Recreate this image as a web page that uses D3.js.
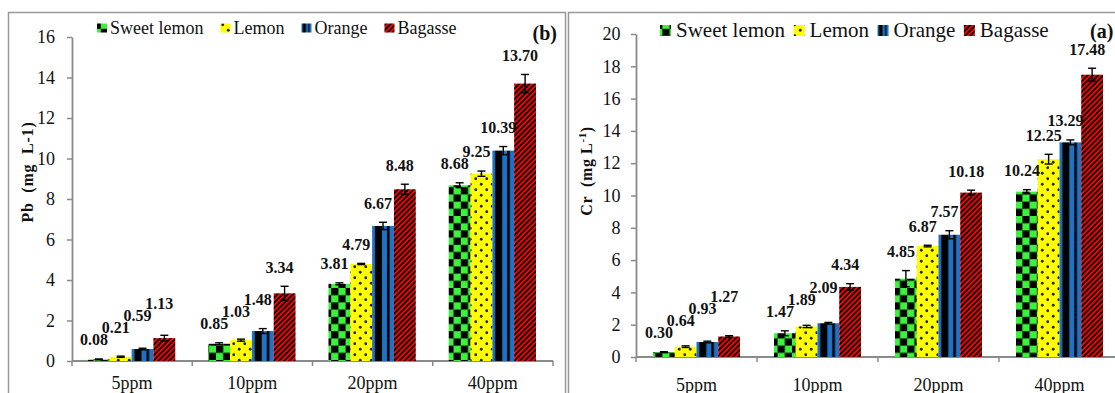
<!DOCTYPE html>
<html>
<head>
<meta charset="utf-8">
<script src="https://cdn.jsdelivr.net/npm/d3@7"></script>
<style>
  body { margin: 0; background: #fff; }
  svg { display: block; }
</style>
</head>
<body>
<svg id="chart" width="1115" height="393"></svg>
<script>
// ---- data ----
const categories = ["5ppm", "10ppm", "20ppm", "40ppm"];
const seriesNames = ["Sweet lemon", "Lemon", "Orange", "Bagasse"];

// Pb (mg L-1), panel (b)
const pbSweetLemon = [0.08, 0.85, 3.81, 8.68];
const pbLemon      = [0.21, 1.03, 4.79, 9.25];
const pbOrange     = [0.59, 1.48, 6.67, 10.39];
const pbBagasse    = [1.13, 3.34, 8.48, 13.70];
const pbErrSweetLemon = [0.02, 0.05, 0.05, 0.12];
const pbErrLemon      = [0.03, 0.05, 0.03, 0.13];
const pbErrOrange     = [0.04, 0.12, 0.18, 0.20];
const pbErrBagasse    = [0.14, 0.35, 0.25, 0.45];
const pbTicks = [0, 2, 4, 6, 8, 10, 12, 14, 16];

// Cr (mg L-1), panel (a)
const crSweetLemon = [0.30, 1.47, 4.85, 10.24];
const crLemon      = [0.64, 1.89, 6.87, 12.25];
const crOrange     = [0.93, 2.09, 7.57, 13.29];
const crBagasse    = [1.27, 4.34, 10.18, 17.48];
const crErrSweetLemon = [0.03, 0.15, 0.50, 0.12];
const crErrLemon      = [0.05, 0.07, 0.05, 0.30];
const crErrOrange     = [0.05, 0.05, 0.25, 0.15];
const crErrBagasse    = [0.05, 0.20, 0.15, 0.40];
const crTicks = [0, 2, 4, 6, 8, 10, 12, 14, 16, 18, 20];

// ---- drawing ----
const FONT = "'Liberation Serif', 'Times New Roman', serif";
const svg = d3.select("#chart");
const defs = svg.append("defs");
const AXIS = "#8a8a8a";

// fills: checkerboard, dotted, vertical stripes, diagonal stripes
const chk = defs.append("pattern").attr("id", "fillSweet")
  .attr("patternUnits", "userSpaceOnUse").attr("width", 14.4).attr("height", 14.4);
chk.append("rect").attr("width", 14.4).attr("height", 14.4).attr("fill", "#3cf23c");
chk.append("rect").attr("width", 7.2).attr("height", 7.2).attr("fill", "#000");
chk.append("rect").attr("x", 7.2).attr("y", 7.2).attr("width", 7.2).attr("height", 7.2).attr("fill", "#000");

const dots = defs.append("pattern").attr("id", "fillLemon")
  .attr("patternUnits", "userSpaceOnUse").attr("width", 11).attr("height", 11);
dots.append("rect").attr("width", 11).attr("height", 11).attr("fill", "#ffff00");
dots.append("circle").attr("cx", 2.75).attr("cy", 2.75).attr("r", 1.4).attr("fill", "#222");
dots.append("circle").attr("cx", 8.25).attr("cy", 8.25).attr("r", 1.4).attr("fill", "#222");

const vs = defs.append("pattern").attr("id", "fillOrange")
  .attr("patternUnits", "objectBoundingBox").attr("patternContentUnits", "objectBoundingBox")
  .attr("width", 1).attr("height", 1);
vs.append("rect").attr("width", 1).attr("height", 1).attr("fill", "#1f72c4");
vs.append("rect").attr("x", 0.13).attr("width", 0.32).attr("height", 1).attr("fill", "#000");
vs.append("rect").attr("x", 0.68).attr("width", 0.12).attr("height", 1).attr("fill", "#000");

const dg = defs.append("pattern").attr("id", "fillBagasse")
  .attr("patternUnits", "userSpaceOnUse").attr("width", 3.7).attr("height", 3.7)
  .attr("patternTransform", "rotate(45)");
dg.append("rect").attr("width", 3.7).attr("height", 3.7).attr("fill", "#ff0000");
dg.append("rect").attr("width", 1.85).attr("height", 3.7).attr("fill", "#000");

const fills = ["url(#fillSweet)", "url(#fillLemon)", "url(#fillOrange)", "url(#fillBagasse)"];

function drawPanel(cfg) {
  const g = svg.append("g");

  // panel frame (open at the bottom edge of the page)
  g.append("rect")
    .attr("x", cfg.frame[0]).attr("y", cfg.frame[1])
    .attr("width", cfg.frame[2]).attr("height", 500)
    .attr("fill", "none").attr("stroke", "#999").attr("stroke-width", 1.5);

  const y = d3.scaleLinear().domain([0, d3.max(cfg.ticks)]).range([cfg.y0, cfg.yTop]);
  const x = d3.scaleBand().domain(categories).range([cfg.xL, cfg.xR]);
  const xs = d3.scaleBand().domain(seriesNames)
    .range([cfg.inner[0], x.bandwidth() - cfg.inner[1]]);

  // y axis
  const ya = g.append("g").attr("transform", `translate(${cfg.xL},0)`)
    .call(d3.axisLeft(y).tickValues(cfg.ticks).tickFormat(d3.format("d"))
      .tickSize(5).tickSizeOuter(0).tickPadding(cfg.tickPad));
  ya.select(".domain").attr("stroke", AXIS).attr("stroke-width", 1.8);
  ya.selectAll(".tick line").attr("stroke", AXIS).attr("stroke-width", 1.5);
  ya.selectAll(".tick text").style("font-size", "18px").attr("fill", "#111");

  // x axis: baseline with ticks at category boundaries
  g.append("line").attr("x1", cfg.xL).attr("x2", cfg.xR)
    .attr("y1", cfg.y0).attr("y2", cfg.y0)
    .attr("stroke", AXIS).attr("stroke-width", 1.8);
  const bounds = categories.map(c => x(c)).concat([x(categories[categories.length - 1]) + x.bandwidth()]);
  g.selectAll(".xtick").data(bounds).join("line")
    .attr("x1", d => d).attr("x2", d => d)
    .attr("y1", cfg.y0).attr("y2", cfg.y0 + 5)
    .attr("stroke", AXIS).attr("stroke-width", 1.5);
  g.selectAll(".xlab").data(categories).join("text")
    .attr("x", d => x(d) + x.bandwidth() / 2).attr("y", cfg.catY)
    .attr("text-anchor", "middle").style("font-size", "18px").attr("fill", "#111")
    .text(d => d);

  // bars
  const rows = [];
  categories.forEach((c, ci) => {
    seriesNames.forEach((s, si) => {
      rows.push({ c, s, si, v: cfg.values[si][ci], e: cfg.errors[si][ci] });
    });
  });
  g.selectAll(".bar").data(rows).join("rect")
    .attr("x", d => x(d.c) + xs(d.s))
    .attr("y", d => y(d.v))
    .attr("width", xs.bandwidth())
    .attr("height", d => y(0) - y(d.v))
    .attr("fill", d => fills[d.si]);

  // error bars
  const cap = 4;
  const mid = d => x(d.c) + xs(d.s) + xs.bandwidth() / 2;
  const eb = g.selectAll(".err").data(rows).join("g")
    .attr("stroke", "#000").attr("stroke-width", 1.4);
  eb.append("line")
    .attr("x1", mid).attr("x2", mid)
    .attr("y1", d => y(d.v + d.e)).attr("y2", d => y(Math.max(0, d.v - d.e)));
  eb.append("line")
    .attr("x1", d => mid(d) - cap).attr("x2", d => mid(d) + cap)
    .attr("y1", d => y(d.v + d.e)).attr("y2", d => y(d.v + d.e));
  eb.append("line")
    .attr("x1", d => mid(d) - cap).attr("x2", d => mid(d) + cap)
    .attr("y1", d => y(Math.max(0, d.v - d.e))).attr("y2", d => y(Math.max(0, d.v - d.e)));

  // value labels above the error bars, stepped upward where neighbours collide
  const fmt = d3.format(".2f");
  const labels = rows.map(d => {
    const t = fmt(d.v);
    return { t, cx: mid(d) - 5, cy: y(d.v + d.e) - 19, w: (t.length - 1) * 8 + 4 };
  });
  for (let i = 1; i < labels.length; i++) {
    const a = labels[i - 1], b = labels[i];
    if (Math.abs(b.cx - a.cx) < (a.w + b.w) / 2 && Math.abs(b.cy - a.cy) < 12) {
      b.cy = a.cy - 12;
    }
  }
  g.selectAll(".val").data(labels).join("text")
    .attr("x", d => d.cx).attr("y", d => d.cy + 5.5)
    .attr("text-anchor", "middle").style("font-size", "16px").style("font-weight", "bold")
    .attr("fill", "#111").text(d => d.t);

  // legend
  const lg = cfg.legend;
  let lx = lg.x;
  seriesNames.forEach((s, si) => {
    g.append("rect").attr("x", lx).attr("y", lg.y).attr("width", lg.sw).attr("height", lg.sh)
      .attr("fill", fills[si]);
    const t = g.append("text").attr("x", lx + lg.sw + lg.gap).attr("y", lg.base)
      .style("font-family", FONT).style("font-size", lg.font + "px").attr("fill", "#111").text(s);
    lx += lg.sw + lg.gap + t.node().getComputedTextLength() + lg.itemGap;
  });

  // panel tag
  g.append("text").attr("x", cfg.tag.x).attr("y", cfg.tag.y)
    .attr("text-anchor", cfg.tag.anchor).style("font-size", "20px").style("font-weight", "bold")
    .attr("fill", "#111").text(cfg.tag.text);

  // y-axis title
  const yt = g.append("text")
    .attr("transform", `translate(${cfg.title.x},${cfg.title.y}) rotate(-90)`)
    .attr("text-anchor", "middle").attr("dy", "0.35em")
    .style("font-size", "16px").style("font-weight", "bold").attr("fill", "#111")
    .style("white-space", "pre").style("letter-spacing", cfg.title.ls + "px");
  cfg.title.build(yt);
}

drawPanel({
  frame: [8.5, 12.5, 557],
  xL: 72, xR: 553, y0: 361, yTop: 37,
  inner: [16, 17],
  ticks: pbTicks, tickPad: 12, catY: 389,
  values: [pbSweetLemon, pbLemon, pbOrange, pbBagasse],
  errors: [pbErrSweetLemon, pbErrLemon, pbErrOrange, pbErrBagasse],
  legend: { x: 97, y: 23.5, sw: 10, sh: 9, gap: 3, font: 18, base: 34, itemGap: 17 },
  tag: { x: 557, y: 40, anchor: "end", text: "(b)" },
  title: { x: 27, y: 172, ls: 0.8, build: t => t.text("Pb  (mg  L-1)") }
});

drawPanel({
  frame: [568.5, 12.5, 600],
  xL: 636, xR: 1120, y0: 357, yTop: 34,
  inner: [17, 17],
  ticks: crTicks, tickPad: 10.5, catY: 390.5,
  values: [crSweetLemon, crLemon, crOrange, crBagasse],
  errors: [crErrSweetLemon, crErrLemon, crErrOrange, crErrBagasse],
  legend: { x: 660, y: 25, sw: 11, sh: 11, gap: 5, font: 21, base: 37, itemGap: 8.5 },
  tag: { x: 1090, y: 38, anchor: "start", text: "(a)" },
  title: { x: 586, y: 171, ls: 0.6, build: t => {
    t.append("tspan").text("Cr  (mg L");
    t.append("tspan").style("font-size", "11px").attr("dy", -6).text("-1");
    t.append("tspan").attr("dy", 6).text(")");
  } }
});

// serif face for every label in the figure
svg.selectAll("text").style("font-family", FONT);
</script>
</body>
</html>
